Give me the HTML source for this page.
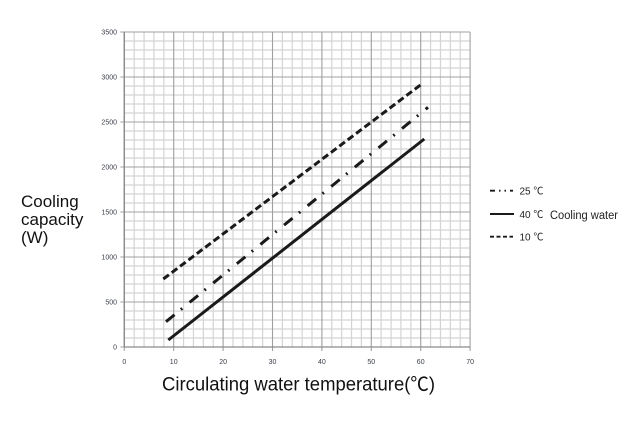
<!DOCTYPE html>
<html>
<head>
<meta charset="utf-8">
<style>
html,body{margin:0;padding:0;background:#fff;}
svg{display:block;}
text{font-family:"Liberation Sans","Noto Sans CJK SC",sans-serif;}
</style>
</head>
<body>
<svg id="c" width="639" height="423" viewBox="0 0 639 423" xmlns="http://www.w3.org/2000/svg">
<rect width="639" height="423" fill="#fff"/>
<g id="grid"></g>
<g id="labels" font-size="7" fill="#3a3f4a"></g>

<!-- series -->
<line x1="163.3" y1="279" x2="422.7" y2="83.3" stroke="#1a1a1a" stroke-width="3" stroke-dasharray="7 3.5"/>
<line x1="166" y1="321.7" x2="428" y2="107.3" stroke="#1a1a1a" stroke-width="3" stroke-dasharray="11 8.2 1.8 9.5"/>
<line x1="168.3" y1="340" x2="424.3" y2="139" stroke="#1a1a1a" stroke-width="3"/>

<!-- axis titles -->
<text x="162" y="390.7" font-size="19" fill="#111" textLength="273" lengthAdjust="spacingAndGlyphs">Circulating water temperature(℃)</text>
<text x="21" y="207" font-size="17" fill="#111">Cooling</text>
<text x="21" y="225" font-size="17" fill="#111">capacity</text>
<text x="21" y="243" font-size="17" fill="#111">(W)</text>

<!-- legend -->
<line x1="490" y1="190.7" x2="513" y2="190.7" stroke="#1a1a1a" stroke-width="1.8" stroke-dasharray="5 4 1.5 4 1.5 4"/>
<text x="519.5" y="194.3" font-size="10" fill="#222">25 ℃</text>
<line x1="490" y1="214" x2="514" y2="214" stroke="#1a1a1a" stroke-width="2"/>
<text x="519.5" y="217.8" font-size="10" fill="#222">40 ℃</text>
<text x="550" y="219" font-size="11.5" fill="#222" textLength="68" lengthAdjust="spacingAndGlyphs">Cooling water</text>
<line x1="490" y1="236.7" x2="513" y2="236.7" stroke="#1a1a1a" stroke-width="1.8" stroke-dasharray="4 2.5"/>
<text x="519.5" y="240.3" font-size="10" fill="#222">10 ℃</text>
</svg>
<script>
(function(){
  var ns="http://www.w3.org/2000/svg";
  var g=document.getElementById("grid");
  var L=document.getElementById("labels");
  var x0=124.3, px=4.94, y0=347, py=0.09;
  function ln(x1,y1,x2,y2,c,w){
    var e=document.createElementNS(ns,"line");
    e.setAttribute("x1",x1);e.setAttribute("y1",y1);
    e.setAttribute("x2",x2);e.setAttribute("y2",y2);
    e.setAttribute("stroke",c);e.setAttribute("stroke-width",w);
    g.appendChild(e);
  }
  var top=y0-3500*py, right=x0+70*px;
  // minor first
  for(var i=0;i<=35;i++){
    if(i%5!==0){
      var x=x0+i*2*px; ln(x,top,x,y0,"#d4d4d4",1.2);
    }
  }
  for(var j=0;j<=35;j++){
    if(j%5!==0){
      var y=y0-j*100*py; ln(x0,y,right,y,"#d4d4d4",1.2);
    }
  }
  // major
  for(var i=0;i<=7;i++){
    var x=x0+i*10*px;
    ln(x,top,x,y0+4,"#a0a0a0",1.1);
    var t=document.createElementNS(ns,"text");
    t.setAttribute("x",x);t.setAttribute("y",364);
    t.setAttribute("text-anchor","middle");
    t.textContent=String(i*10);L.appendChild(t);
  }
  for(var j=0;j<=7;j++){
    var y=y0-j*500*py;
    ln(x0-4,y,right,y,"#a0a0a0",1.1);
    var t=document.createElementNS(ns,"text");
    t.setAttribute("x",117);t.setAttribute("y",y+2.5);
    t.setAttribute("text-anchor","end");
    t.textContent=String(j*500);L.appendChild(t);
  }
  ln(x0,top,x0,y0,"#8a8a8a",1.4);
  ln(x0,y0,right,y0,"#8a8a8a",1.2);
})();
</script>
</body>
</html>
